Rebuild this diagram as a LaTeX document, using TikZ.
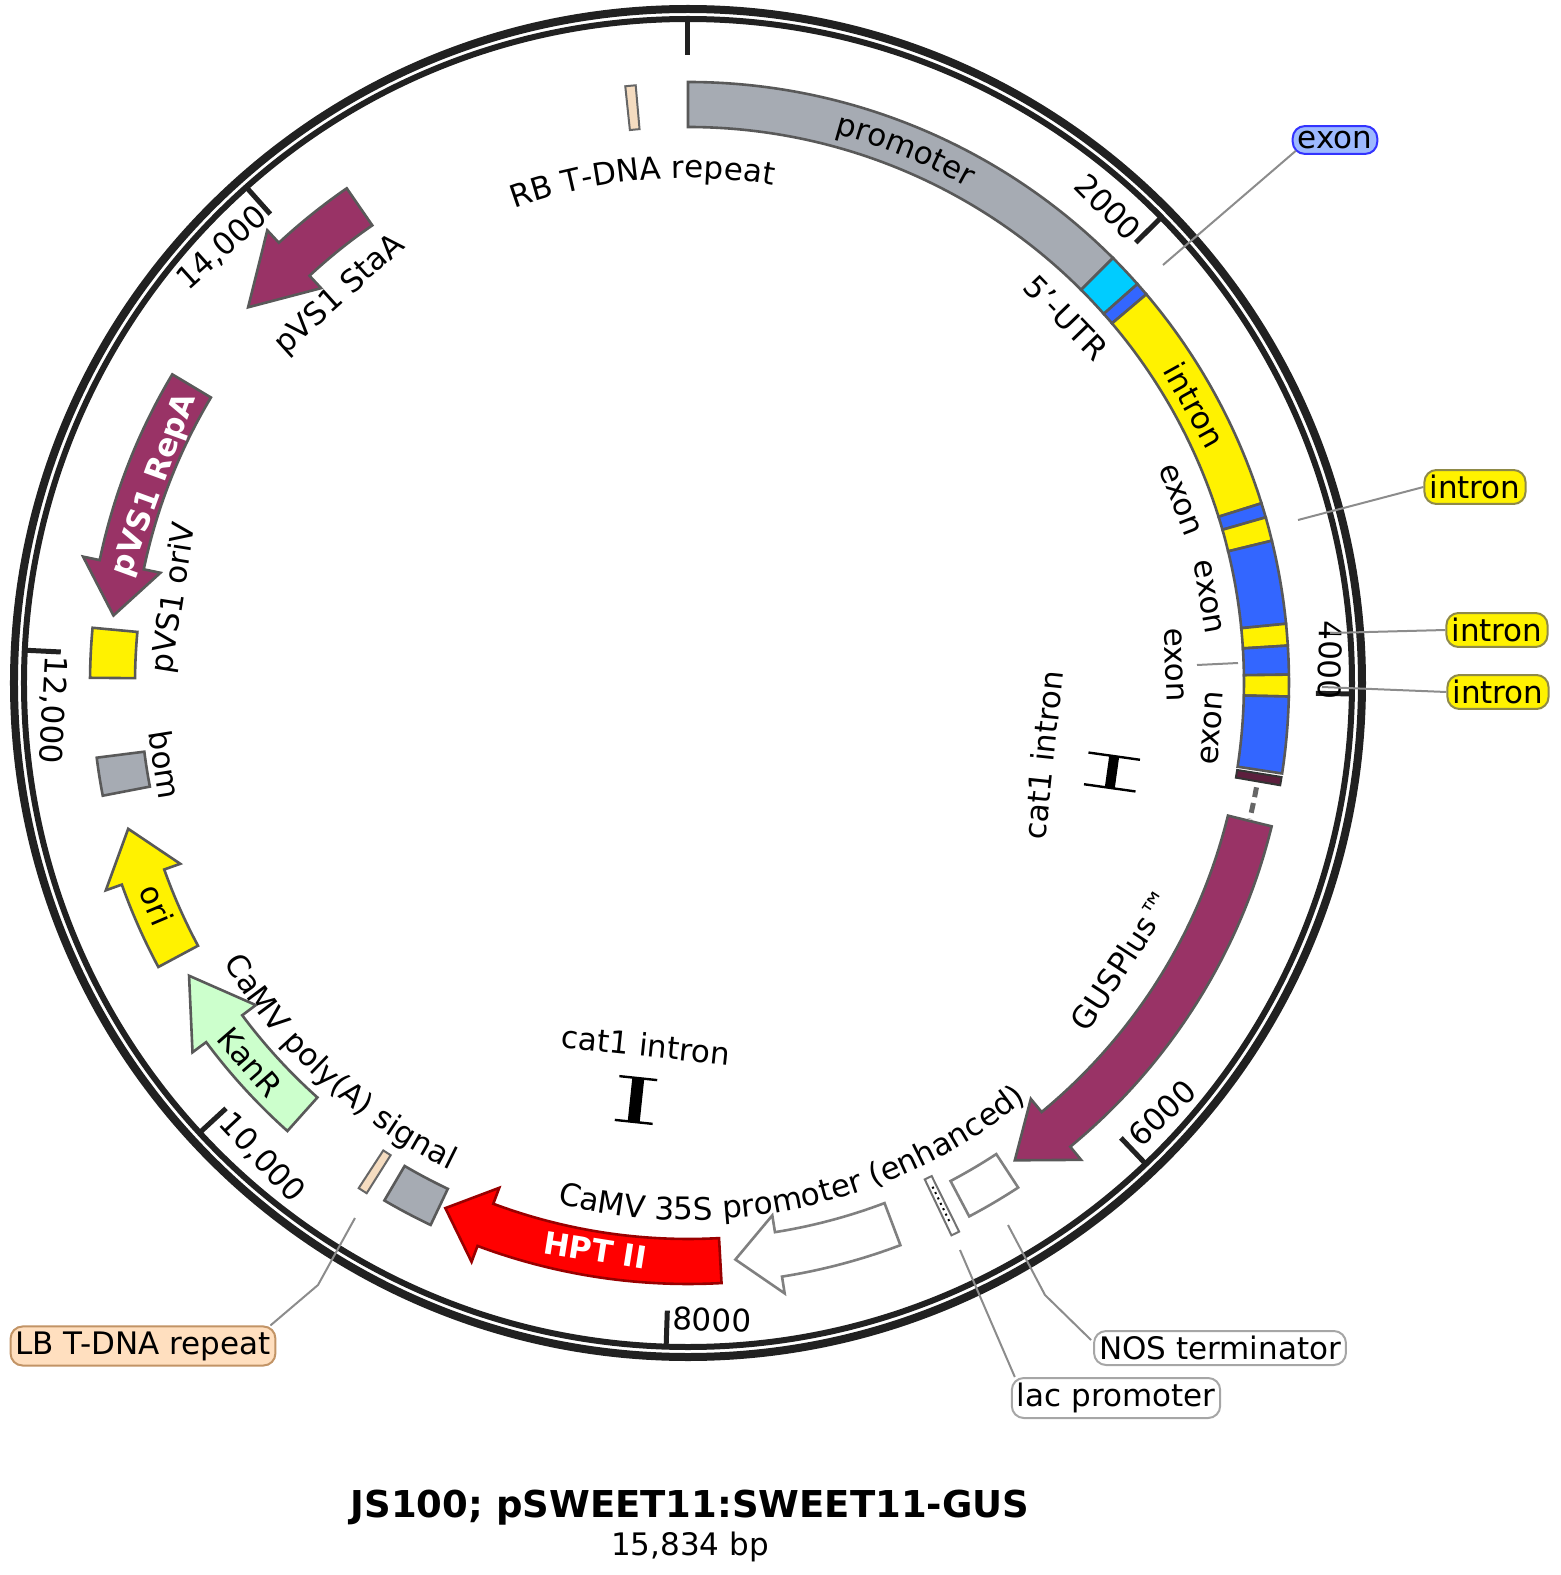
\documentclass[tikz,border=0pt]{standalone}
\usepackage{fontspec}
\setmainfont{DejaVu Sans}
\usetikzlibrary{decorations.text}
\definecolor{purp}{HTML}{993366}
\definecolor{gfill}{HTML}{A6ABB3}
\definecolor{bblue}{HTML}{3366FF}
\definecolor{cyanf}{HTML}{00CCFF}
\definecolor{tanf}{HTML}{F5DCC0}
\definecolor{exbox}{HTML}{9DB9FF}
\newcommand\segbox[5]{\draw[#5] (#1:#4) arc[start angle=#1,end angle=#2,radius=#4] -- (#2:#3) arc[start angle=#2,end angle=#1,radius=#3] -- cycle;}
\newcommand\farrow[4]{\draw[#4] (#1:601) arc[start angle=#1,end angle=#2,radius=601] -- (#2:618) -- (#3:578.5) -- (#2:539) -- (#2:556) arc[start angle=#2,end angle=#1,radius=556] -- cycle;}
\newcommand\lbl{\fontsize{15.5}{18}\selectfont}
\begin{document}
\begin{tikzpicture}[x=0.5pt,y=0.5pt,
  every node/.style={font=\lbl, inner sep=1pt},
  feat/.style={draw=black!65, line width=1.3pt},
  callout/.style={draw=black!45, line width=1pt},
  tag/.style={rounded corners=6pt, line width=1pt, inner sep=2.5pt},
  ibeam/.style={line width=1.2pt}]
\useasboundingbox (-688,-892) rectangle (872,683);
% ring
\draw[line width=4pt, black!87] (0,0) circle (674);
\draw[line width=3pt, black!87] (0,0) circle (664);
\foreach \k in {0,...,7}{\draw[line width=2.5pt, black!87] ({90-45.472*\k}:628) -- ({90-45.472*\k}:662);}
% features on top band
\segbox{90}{45}{556}{601}{feat, fill=gfill}
\segbox{45}{41.6}{556}{601}{feat, fill=cyanf}
\segbox{41.6}{40.3}{556}{601}{feat, fill=bblue}
\segbox{40.3}{17.4}{556}{601}{feat, fill=yellow}
\segbox{17.4}{16}{556}{601}{feat, fill=bblue}
\segbox{16}{13.7}{556}{601}{feat, fill=yellow}
\segbox{13.7}{5.66}{556}{601}{feat, fill=bblue}
\segbox{5.66}{3.57}{556}{601}{feat, fill=yellow}
\segbox{3.57}{0.8}{556}{601}{feat, fill=bblue}
\segbox{0.8}{-1.29}{556}{601}{feat, fill=yellow}
\segbox{-1.29}{-8.66}{556}{601}{feat, fill=bblue}
\segbox{-9.0}{-9.8}{556}{601}{draw=black!80, line width=1pt, fill=purp!60!black}
\draw[black!60, line width=2.5pt, dash pattern=on 5pt off 3pt] (-10.4:578) arc[start angle=-10.4,end angle=-13.6,radius=578];
\segbox{95.0}{96.0}{556}{600}{draw=black!60, line width=1pt, fill=tanf}
% arrows
\farrow{-13.8}{-50.5}{-55.6}{feat, fill=purp}
\segbox{-56.8}{-62.2}{563}{603}{draw=black!50, line width=1.3pt, fill=white}
\segbox{-63.7}{-64.5}{550}{612}{draw=black!55, line width=1pt, fill=white}
\draw[black, line width=1pt, dotted] (-64.1:560) -- (-64.1:602);
\farrow{-69.3}{-81}{-85.3}{draw=black!50, line width=1.3pt, fill=white}
\farrow{-86.8}{-110.5}{-114.8}{draw=red!60!black, line width=1.3pt, fill=red}
\segbox{-115.4}{-120.4}{560}{600}{feat, fill=gfill}
\segbox{-122.2}{-123.1}{558}{603}{draw=black!60, line width=1pt, fill=tanf}
\farrow{-131.8}{-143.3}{-149.6}{feat, fill=green!20}
\farrow{-151.8}{-160.4}{-165.4}{feat, fill=yellow}
\segbox{-169.1}{-172.8}{548}{596}{feat, fill=gfill}
\segbox{174.7}{179.5}{553}{598}{feat, fill=yellow}
\farrow{149.1}{168.2}{173.3}{feat, fill=purp}
\farrow{124.6}{132.9}{139.5}{feat, fill=purp}
% I-beams
\begin{scope}[shift={(424,-89)}, rotate=-8]
\draw[ibeam] (-26,16) -- (26,16) (-26,-16) -- (26,-16);
\fill (-5,-16) rectangle (5,16);
\end{scope}
\begin{scope}[shift={(-52,-417)}, rotate=-6]
\draw[ibeam] (-19,22) -- (19,22) (-19,-22) -- (19,-22);
\fill (-6,-22) rectangle (6,22);
\end{scope}
% curved labels
\path[decorate, decoration={text along path, text align=center, text={|\lbl|CaMV 35S promoter (enhanced)}}] (250:537) arc[start angle=250,end angle=315,radius=537];
\path[decorate, decoration={text along path, text align=center, text={|\lbl|CaMV poly(A) signal}}] (200:542) arc[start angle=200,end angle=255,radius=542];
\path[decorate, decoration={text along path, text align=center, text={|\lbl|RB T-DNA repeat}}] (120:505) arc[start angle=120,end angle=70.4,radius=505];
\path[decorate, decoration={text along path, text align=center, text={|\lbl|promoter}}] (90:569) arc[start angle=90,end angle=45.6,radius=569];
% rotated labels
\node[rotate=-45] (t2000) at (420,476) {2000};
\node[rotate=-46] (utr) at (378,365) {5'-UTR};
\node[rotate=-61] (intr) at (507,278) {intron};
\node[rotate=-69] (ex1) at (492,183) {exon};
\node[rotate=-80] (ex2) at (520,86) {exon};
\node[rotate=-88] (ex3) at (486,18) {exon};
\node[rotate=85] (ex4) at (524,-45) {exon};
\node[rotate=-91] (t4000) at (642,23) {4000};
\node[rotate=84] (cat1a) at (355,-72) {cat1 intron};
\node[rotate=57] (gus) at (434,-277) {GUSPlus™};
\node[rotate=44] (t6000) at (474,-430) {6000};
\node[rotate=-2] (t8000) at (24,-637) {8000};
\node[rotate=-9, text=white, font=\lbl\bfseries] (hpt) at (-93,-567) {HPT II};
\node[rotate=-6] (cat1b) at (-42,-362) {cat1 intron};
\node[rotate=-47] (t10000) at (-426,-475) {10,000};
\node[rotate=-49] (kan) at (-438,-379) {KanR};
\node[rotate=-67] (ori) at (-531,-222) {ori};
\node[rotate=-81] (bom) at (-523,-82) {bom};
\node[rotate=-93] (t12000) at (-636,-27) {12,000};
\node[rotate=81] (oriv) at (-513,85) {pVS1 oriV};
\node[rotate=70, text=white, font=\lbl\bfseries] (repa) at (-533,198) {pVS1 RepA};
\node[rotate=42] (staa) at (-348,388) {pVS1 StaA};
\node[rotate=42] (t14000) at (-466,435) {14,000};
% callouts
\node[tag, draw=blue!80, fill=exbox] (cex) at (647,543) {exon};
\node[tag, draw=yellow!50!black, fill=yellow] (cin1) at (787,196) {intron};
\node[tag, draw=yellow!50!black, fill=yellow] (cin2) at (809,53) {intron};
\node[tag, draw=yellow!50!black, fill=yellow] (cin3) at (810,-9) {intron};
\node[tag, draw=black!35, fill=white] (cnos) at (532,-665) {NOS terminator};
\node[tag, draw=black!35, fill=white] (clac) at (428,-715) {lac promoter};
\node[tag, draw=orange!60!black!60, fill=orange!25] (clb) at (-545,-663) {LB T-DNA repeat};
\coordinate (pex) at (475,418);
\coordinate (pin1) at (610,163);
\coordinate (pin2) at (642,50);
\coordinate (pin3) at (634,-4);
\coordinate (pnos) at (320,-542);
\coordinate (plac) at (272,-567);
\coordinate (plb) at (-333,-535);
\draw[callout] (cex.south west) ++(4,4) -- (pex);
\draw[callout] (cin1.west) -- (pin1);
\draw[callout] (cin2.west) -- (pin2);
\draw[callout] (cin3.west) -- (pin3);
\draw[callout] (509,18) -- (550,20);
\draw[callout] (cnos.west) ++(-2,8) -- (357,-612) -- (pnos);
\draw[callout] (clac.north west) ++(4,0) -- (plac);
\draw[callout] (clb.north east) ++(-6,0) -- (-370,-602) -- (plb);
% title
\node[font=\fontsize{18.5}{22}\selectfont\bfseries] (title) at (2,-825) {JS100; pSWEET11:SWEET11-GUS};
\node (bp) at (2,-864) {15,834 bp};
\end{tikzpicture}
\end{document}
